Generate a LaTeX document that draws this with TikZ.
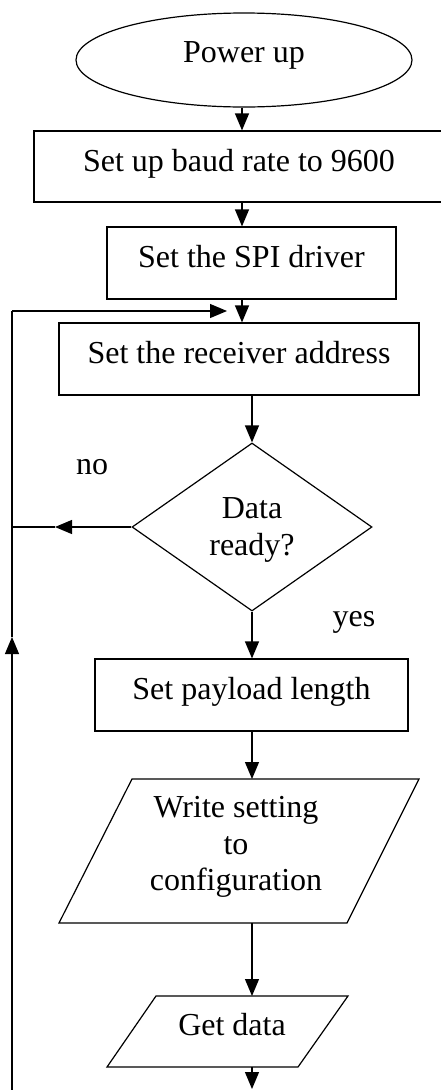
\documentclass[tikz,border=0pt]{standalone}
\usepackage{fontspec}
\setmainfont{Liberation Serif}
\usetikzlibrary{arrows.meta,shapes.geometric}
\tikzset{
  line/.style={line width=1.2pt},
  arr/.style={line, -{Triangle[length=17pt,width=14pt]}},
  txt/.style={font=\fontsize{32}{36.5}\selectfont, inner sep=0pt, align=center},
  boxnode/.style={txt, draw, line width=1.2pt, rectangle, text height=22pt, text depth=13pt},
}
\begin{document}
\begin{tikzpicture}[x=1pt,y=-1pt]
\useasboundingbox (0,0) rectangle (440,1090);
% start
\node[txt, draw, line width=1.2pt, ellipse, minimum width=336pt, minimum height=94pt, text height=22pt, text depth=17pt] (pu) at (244,60) {Power up};
% boxes
\node[boxnode, minimum width=410pt, minimum height=71pt] (b1) at (239,166.5) {Set up baud rate to 9600};
\node[boxnode, minimum width=289pt, minimum height=72pt] (b2) at (251.5,263) {Set the SPI driver};
\node[boxnode, minimum width=360pt, minimum height=72pt] (b3) at (239,359) {Set the receiver address};
% decision
\node[txt, draw, line width=1.2pt, diamond, shape aspect=1.43, minimum width=240pt, minimum height=168pt] (dr) at (252,527) {};
\node[txt] (drt) at (252,530) {Data\\ready?};
\node[txt] (no) at (92,467) {no};
\node[txt] (yes) at (354,622) {yes};
\node[boxnode, minimum width=313pt, minimum height=72pt] (b4) at (251.5,695) {Set payload length};
% parallelogram 1
\coordinate (p1a) at (132,779);
\coordinate (p1b) at (419,779);
\coordinate (p1c) at (347,923);
\coordinate (p1d) at (59,923);
\draw[line] (p1a) -- (p1b) -- (p1c) -- (p1d) -- cycle;
\node[txt] (wst) at (236,847) {Write setting\\to\\configuration};
% parallelogram 2
\coordinate (p2a) at (156,996);
\coordinate (p2b) at (348,996);
\coordinate (p2c) at (298,1067);
\coordinate (p2d) at (107,1067);
\draw[line] (p2a) -- (p2b) -- (p2c) -- (p2d) -- cycle;
\node[txt] (gd) at (232,1025) {Get data};
% arrow columns
\coordinate (xa) at (242,0);
\coordinate (xb) at (252,0);
\coordinate (p1top) at (252,779);
\coordinate (p1bot) at (252,923);
\coordinate (p2top) at (252,996);
\coordinate (p2bot) at (252,1067);
\coordinate (endt) at (252,1089);
\draw[arr] (pu.south -| xa) -- (b1.north -| xa);
\draw[arr] (b1.south -| xa) -- (b2.north -| xa);
\draw[arr] (b2.south -| xa) -- (b3.north -| xa);
\draw[arr] (b3.south -| xb) -- (dr.north);
\draw[arr] (dr.south) -- (b4.north -| xb);
\draw[arr] (b4.south -| xb) -- (p1top);
\draw[arr] (p1bot) -- (p2top);
\draw[arr] (p2bot) -- (endt);
% feedback loop
\coordinate (lt) at (12,311);
\coordinate (lb) at (12,1090);
\coordinate (ln) at (12,527);
\coordinate (fbt) at (227,311);
\coordinate (noa) at (55,527);
\coordinate (upa) at (12,637);
\draw[arr] (dr.west) -- (noa);
\draw[line] (noa) -- (ln);
\draw[arr] (lb) -- (upa);
\draw[line] (upa) -- (lt);
\draw[arr] (lt) -- (fbt);
\end{tikzpicture}
\end{document}
